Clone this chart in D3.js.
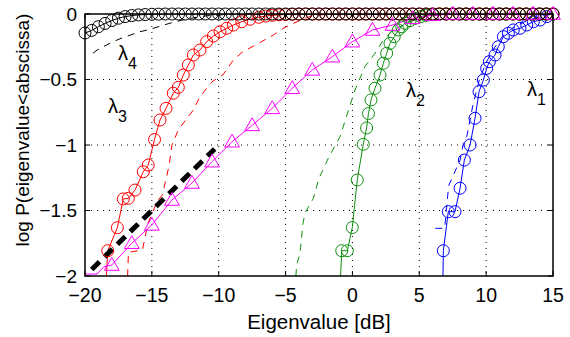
<!DOCTYPE html>
<html><head><meta charset="utf-8">
<script src="https://cdn.jsdelivr.net/npm/d3@7"></script>
<style>body{margin:0;background:#fff}svg{display:block}text{font-family:"Liberation Sans",Arial,Helvetica,sans-serif;fill:#000}</style>
</head><body>
<svg id="chart" width="570" height="337"></svg>
<script>
// ---------- data ----------
const xTicks = [-20, -15, -10, -5, 0, 5, 10, 15];
const xTickLabels = ["\u221220", "\u221215", "\u221210", "\u22125", "0", "5", "10", "15"];
const yTicks = [-2, -1.5, -1, -0.5, 0];
const yTickLabels = ["\u22122", "\u22121.5", "\u22121", "\u22120.5", "0"];

// lambda4 empirical (black circles)
const l4X = [-20,-19.5,-19,-18.5,-18,-17.5,-17,-16.5,-16,-15.5,-15,-14.5,-14,-13.5,-13,-12.5,-12,-11.5,-11,-10.5,-10,-9.5,-9,-8.5,-8,-7.5,-7,-6.5,-6,-5.5,-5,-4.5,-4,-3.5,-3,-2.5,-2,-1.5,-1,-0.5,0,0.5,1,1.5,2,2.5,3,3.5,4,4.5,5,5.5,6,6.5,7,7.5,8,8.5,9,9.5,10,10.5,11,11.5,12,12.5,13,13.5,14,14.5,15];
const l4Y = [-0.145,-0.125,-0.097,-0.072,-0.05,-0.032,-0.02,-0.012,-0.007,-0.004,-0.002,-0.001,0,0,0,0,0,0,0,0,0,0,0,0,0,0,0,0,0,0,0,0,0,0,0,0,0,0,0,0,0,0,0,0,0,0,0,0,0,0,0,0,0,0,0,0,0,0,0,0,0,0,0,0,0,0,0,0,0,0,0];
// lambda4 theory (black thin dashed)
const l4tX = [-19.4,-19.1,-17.9,-17.3,-15.9,-15.3,-14.1,-13.5,-12.5,-11,-9,15];
const l4tY = [-0.30,-0.275,-0.211,-0.186,-0.135,-0.122,-0.084,-0.066,-0.04,-0.015,0,0];

// lambda3 empirical (red circles)
const l3X = [-18.6,-18.3,-17.58,-17.14,-16.76,-16.26,-15.64,-15.27,-14.8,-14.39,-13.94,-13.4,-13.02,-12.65,-12.27,-11.9,-11.4,-10.9,-10.4,-9.9,-9.4,-8.91,-8.28,-7.66,-7.0,-6.5,-6.0,-5.5,-5,-4.5,-4,-3.5,-3,-2.5,-2,-1.5,-1,-0.5,0,0.5,1,1.5,2,2.5,3,3.5,4,4.5,5,5.5,6,6.5,7,7.5,8,8.5,9,9.5,10,10.5,11,11.5,12,12.5,13,13.5,14,14.5,15];
const l3Y = [-2.4,-1.807,-1.631,-1.412,-1.407,-1.344,-1.204,-1.153,-0.958,-0.809,-0.72,-0.605,-0.56,-0.466,-0.389,-0.313,-0.275,-0.211,-0.168,-0.135,-0.109,-0.084,-0.059,-0.04,-0.025,-0.016,-0.01,-0.006,-0.004,-0.002,0,0,0,0,0,0,0,0,0,0,0,0,0,0,0,0,0,0,0,0,0,0,0,0,0,0,0,0,0,0,0,0,0,0,0,0,0,0,0];
// lambda3 theory (red dashed)
const l3tX = [-16.85,-16.75,-15.7,-15.3,-14.6,-14.2,-13.7,-13.5,-13.0,-12.4,-11.9,-11.4,-10.5,-9.7,-8.9,-8.2,-7.4,-6.6,-5.9,-5.2,-4.4,-3.6,-2.9,-1.5,15];
const l3tY = [-2.1,-1.82,-1.8,-1.6,-1.43,-1.38,-1.15,-1.0,-0.88,-0.8,-0.733,-0.631,-0.517,-0.466,-0.351,-0.288,-0.245,-0.2,-0.16,-0.11,-0.071,-0.035,-0.01,0,0];

// lambda2 empirical (green circles)
const l2X = [-1.1,-0.8,-0.38,-0.01,0.36,0.81,1.06,1.2,1.39,1.69,2.06,2.31,2.56,2.81,3.13,3.43,3.69,3.93,4.31,4.68,5.1,5.5,6,6.5,7,7.5,8,8.5,9,9.5,10,10.5,11,11.5,12,12.5,13,13.5,14,14.5,15];
const l2Y = [-2.5,-1.807,-1.807,-1.63,-1.267,-0.995,-0.87,-0.76,-0.656,-0.567,-0.466,-0.376,-0.30,-0.224,-0.173,-0.122,-0.097,-0.071,-0.051,-0.033,-0.02,-0.01,-0.005,0,0,0,0,0,0,0,0,0,0,0,0,0,0,0,0,0,0];
// lambda2 theory (green dashed)
const l2tX = [-4.3,-4.17,-3.92,-3.7,-3.55,-2.92,-2.5,-1.8,-0.93,-0.5,0.19,0.94,1.69,2.31,3.06,4.31,5.5,7,15];
const l2tY = [-2.1,-1.916,-1.827,-1.6,-1.52,-1.407,-1.254,-1.10,-0.936,-0.8,-0.58,-0.40,-0.30,-0.198,-0.122,-0.059,-0.02,0,0];

// lambda1 empirical (blue circles)
const l1X = [6.7,6.8,7.17,7.67,8.05,8.37,8.8,9.17,9.47,9.79,10.04,10.24,10.67,10.91,11.29,11.66,12.03,12.53,13.04,13.53,14.03,14.53];
const l1Y = [-2.5,-1.807,-1.509,-1.509,-1.33,-1.115,-1.0,-0.796,-0.593,-0.504,-0.415,-0.364,-0.313,-0.25,-0.173,-0.147,-0.122,-0.109,-0.084,-0.059,-0.046,-0.02];
// lambda1 theory (blue dashed)
const l1tX = [6.2,6.9,7.05,7.2,8.05,8.3,8.55,9.0,9.5,10.0,10.6,11.3,12.2,13.2,14.2,15];
const l1tY = [-1.636,-1.636,-1.466,-1.31,-1.115,-0.987,-0.936,-0.7,-0.5,-0.37,-0.26,-0.16,-0.09,-0.045,-0.015,0];

// magenta triangles
const mX = [-18,-16.5,-15,-13.5,-12,-10.5,-9,-7.5,-6,-4.5,-3,-1.5,0,1.5,3,4.5,6,7.5,9,10.5,12,13.5,15];
const mY = [-1.916,-1.75,-1.61,-1.42,-1.29,-1.127,-0.975,-0.85,-0.72,-0.567,-0.427,-0.326,-0.211,-0.122,-0.084,-0.033,-0.01,0,0,0,0,0,0];
// magenta line start (before first triangle)
const mStartX = [-20,-19.1,-18.6];
const mStartY = [-1.985,-1.985,-1.93];

// thick black dashed asymptote
const asyX = [-19.5,-10.3];
const asyY = [-1.95,-1.03];

// ---------- drawing ----------
const svg = d3.select("#chart");
const L = 85, R = 553, T = 14, B = 276;
const x = d3.scaleLinear().domain([-20, 15]).range([L, R]);
const y = d3.scaleLinear().domain([-2, 0]).range([B, T]);

svg.append("defs").append("clipPath").attr("id","clip")
  .append("rect").attr("x",L).attr("y",T).attr("width",R-L).attr("height",B-T);

// grid (dotted)
const grid = svg.append("g");
xTicks.slice(1,-1).forEach(v => grid.append("line")
  .attr("x1",x(v)).attr("x2",x(v)).attr("y1",T).attr("y2",B)
  .attr("stroke","#000").attr("stroke-width",1).attr("stroke-dasharray","1,5"));
yTicks.slice(1,-1).forEach(v => grid.append("line")
  .attr("y1",y(v)).attr("y2",y(v)).attr("x1",L).attr("x2",R)
  .attr("stroke","#000").attr("stroke-width",1).attr("stroke-dasharray","1,5"));

const zip = (xs, ys) => xs.map((v,i) => [v, ys[i]]);
const line = d3.line().x(d => x(d[0])).y(d => y(d[1]));
const plotG = svg.append("g");
const linesG = plotG.append("g").attr("clip-path","url(#clip)");

function drawLine(xs, ys, color, width, dash) {
  linesG.append("path").datum(zip(xs, ys))
    .attr("d", line).attr("fill","none").attr("stroke",color)
    .attr("stroke-width",width).attr("stroke-dasharray",dash || null);
}
function drawCircles(xs, ys, color) {
  plotG.append("g").selectAll("circle")
    .data(zip(xs, ys).filter(d => d[1] >= -2))
    .join("circle").attr("cx", d => x(d[0])).attr("cy", d => y(d[1]))
    .attr("r", 6).attr("fill","none").attr("stroke",color).attr("stroke-width",1);
}
const tri = d3.symbol().type(d3.symbolTriangle).size(95);
function drawTriangles(xs, ys, color) {
  plotG.append("g").selectAll("path")
    .data(zip(xs, ys).filter(d => d[1] >= -2))
    .join("path").attr("d", tri)
    .attr("transform", d => `translate(${x(d[0])},${y(d[1])+1})`)
    .attr("fill","none").attr("stroke",color).attr("stroke-width",1);
}

const BLUE = "#0000ff", GREEN = "#0f8f0f", RED = "#ff0000", MAG = "#ff00ff";

drawLine(l1tX, l1tY, BLUE, 1, "7,6");
drawLine(l1X, l1Y, BLUE, 1);
drawCircles(l1X, l1Y, BLUE);

drawLine(l2tX, l2tY, GREEN, 1, "7,6");
drawLine(l2X, l2Y, GREEN, 1);
drawCircles(l2X, l2Y, GREEN);

drawLine(l3tX, l3tY, RED, 1, "7,6");
drawLine(l3X, l3Y, RED, 1);
drawCircles(l3X, l3Y, RED);

drawLine(l4tX, l4tY, "#000", 1, "7,6");
drawLine(l4X, l4Y, "#000", 1);
drawCircles(l4X, l4Y, "#000");

drawLine(mStartX.concat(mX), mStartY.concat(mY), MAG, 1);
drawTriangles(mX, mY, MAG);

drawLine(asyX, asyY, "#000", 5, "11,7");

// frame
svg.append("rect").attr("x",L).attr("y",T).attr("width",R-L).attr("height",B-T)
  .attr("fill","none").attr("stroke","#000").attr("stroke-width",1.5);

// ticks (inside, all sides)
const tk = svg.append("g").attr("stroke","#000").attr("stroke-width",1);
xTicks.forEach(v => {
  tk.append("line").attr("x1",x(v)).attr("x2",x(v)).attr("y1",B).attr("y2",B-5);
  tk.append("line").attr("x1",x(v)).attr("x2",x(v)).attr("y1",T).attr("y2",T+5);
});
yTicks.forEach(v => {
  tk.append("line").attr("y1",y(v)).attr("y2",y(v)).attr("x1",L).attr("x2",L+5);
  tk.append("line").attr("y1",y(v)).attr("y2",y(v)).attr("x1",R).attr("x2",R-5);
});

// tick labels
xTicks.forEach((v,i) => svg.append("text").attr("x",x(v)).attr("y",302)
  .attr("text-anchor","middle").attr("font-size",19.5).text(xTickLabels[i]));
yTicks.forEach((v,i) => svg.append("text").attr("x",77).attr("y",y(v)).attr("dy","0.36em")
  .attr("text-anchor","end").attr("font-size",19).text(yTickLabels[i]));

// axis labels
svg.append("text").attr("x",(L+R)/2).attr("y",329).attr("text-anchor","middle")
  .attr("font-size",20.5).text("Eigenvalue [dB]");
svg.append("text").attr("transform","translate(29,130) rotate(-90)")
  .attr("text-anchor","middle").attr("font-size",19).text("log P(eigenvalue<abscissa)");

// lambda annotations
const lamLabels = [["4",118,60],["3",108,113],["2",406,97],["1",527,96]];
lamLabels.forEach(([s,px,py]) => {
  const t = svg.append("text").attr("x",px).attr("y",py).attr("font-size",20);
  t.append("tspan").text("\u03bb");
  t.append("tspan").attr("font-size",16).attr("dy",9).text(s);
});
</script>
</body></html>
